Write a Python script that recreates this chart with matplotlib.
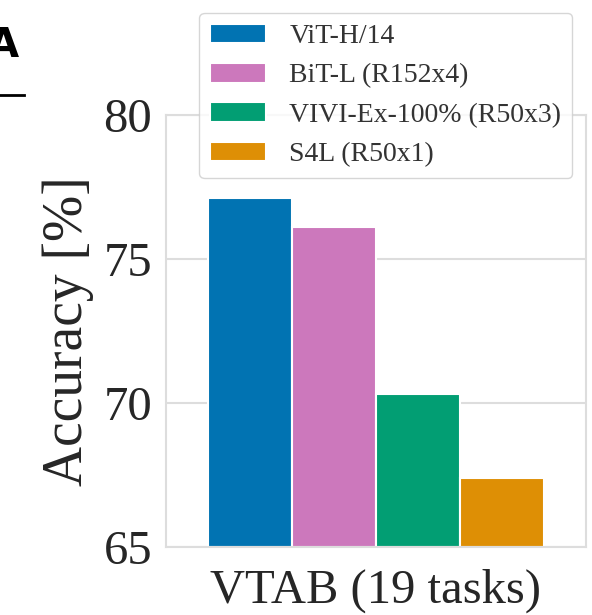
import matplotlib
matplotlib.use("Agg")
import matplotlib.pyplot as plt
from matplotlib.lines import Line2D

# data
models = ["ViT-H/14", "BiT-L (R152x4)", "VIVI-Ex-100% (R50x3)", "S4L (R50x1)"]
accuracy = [77.1, 76.1, 70.3, 67.4]
colors = ["#0173b2", "#cc78bc", "#029e73", "#de8f05"]
task_label = "VTAB (19 tasks)"
yticks = [65, 70, 75, 80]

plt.rcParams["font.family"] = ["Liberation Serif", "DejaVu Serif"]

fig = plt.figure(figsize=(5.92, 6.15), dpi=100)
ax = fig.add_axes([166 / 592, 1 - 546.7 / 615, 420 / 592, 431.7 / 615])

# bars side by side, one group
offsets = [-1.5, -0.5, 0.5, 1.5]
for off, val, col, name in zip(offsets, accuracy, colors, models):
    ax.bar(off, val - 65, bottom=65, width=1.0, color=col, edgecolor="white",
           linewidth=1.5, label=name, zorder=2)

ax.set_xlim(-2.5, 2.5)
ax.set_ylim(65, 80)
ax.set_yticks(yticks)
ax.set_xticks([0])
ax.set_xticklabels([task_label])
ax.tick_params(axis="y", length=0, labelsize=35, colors="#262626", pad=10)
ax.tick_params(axis="x", length=0, labelsize=35, colors="#262626", pad=16)
ax.set_ylabel("Accuracy [%]", fontsize=40, color="#262626", labelpad=7)

ax.grid(axis="y", color="#dddddd", linewidth=1.5, zorder=0)
ax.set_axisbelow(True)
for sp in ax.spines.values():
    sp.set_color("#dddddd")
    sp.set_linewidth(1.5)

leg = ax.legend(loc="upper center", bbox_to_anchor=(0.523, 1.237), borderaxespad=0,
                fontsize=20, frameon=True, fancybox=True, handlelength=2.0,
                handleheight=0.7, handletextpad=0.85, labelspacing=0.5, borderpad=0.4)
leg.get_frame().set_edgecolor("#cccccc")
leg.get_frame().set_linewidth(1.0)
for t in leg.get_texts():
    t.set_color("#333333")

# panel letter (cropped from a larger figure)
fig.text(19 / 592, 1 - 57 / 615, "A", fontsize=29, fontweight="bold",
         family="DejaVu Sans", ha="right", va="baseline", color="black")
fig.add_artist(Line2D([0, 24 / 592], [1 - 94.5 / 615] * 2, color="black", linewidth=2))

fig.savefig("out.png", dpi=100)
